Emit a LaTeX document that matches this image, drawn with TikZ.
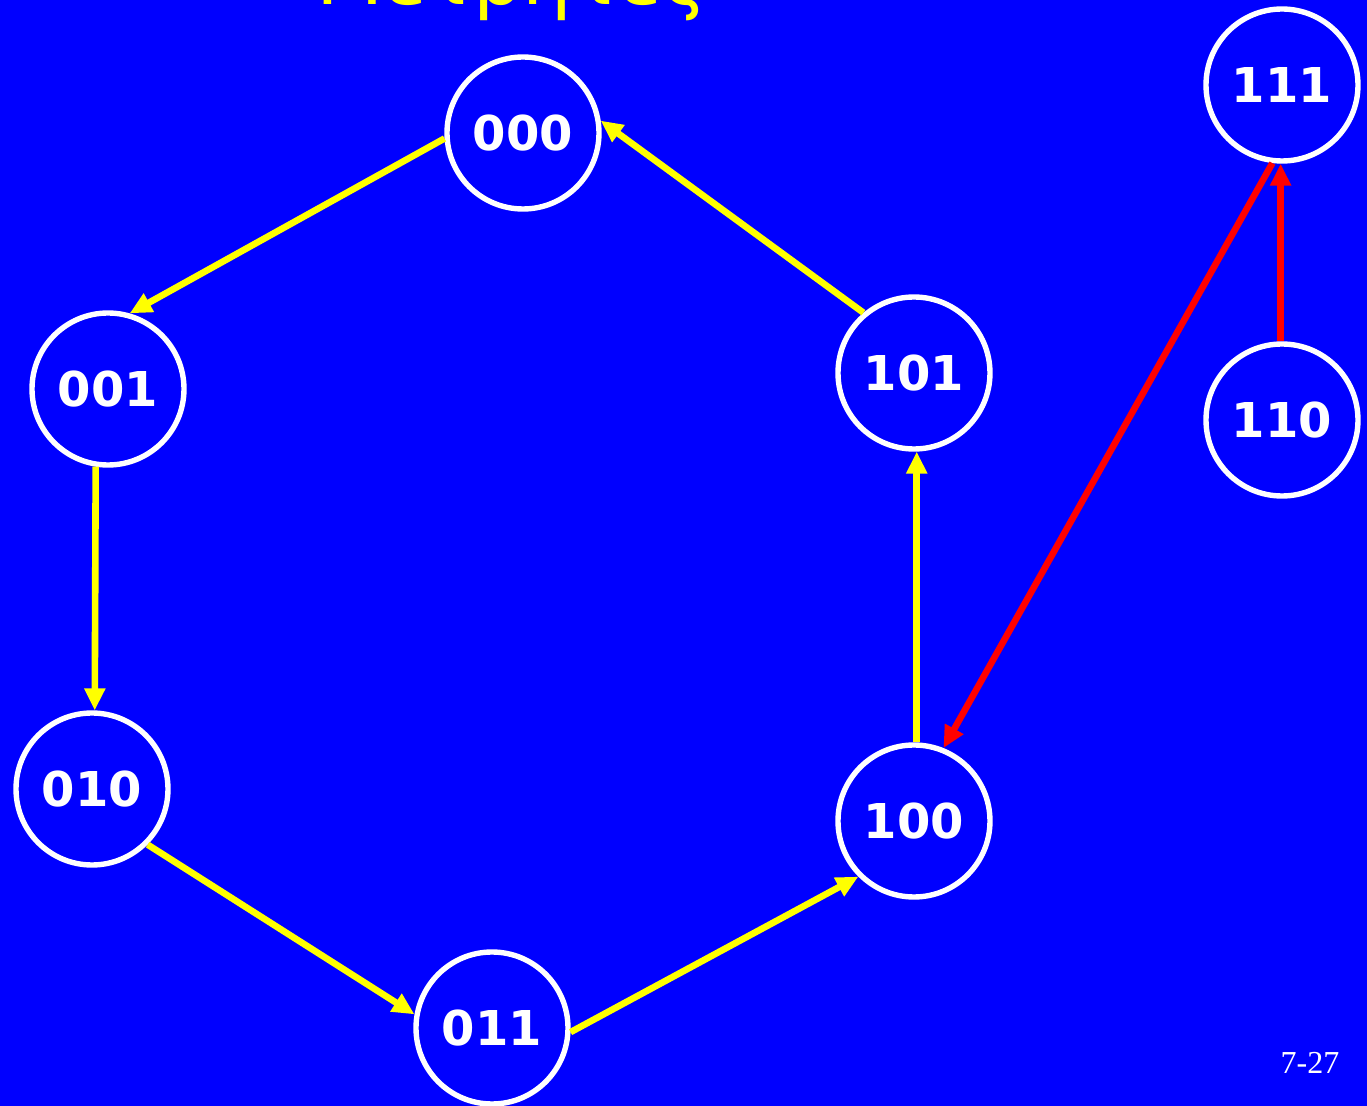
\documentclass[tikz,border=0pt]{standalone}
\usepackage{fontspec}
\setmainfont{Liberation Serif}
\setsansfont{DejaVu Sans}
\newfontfamily\titlefont{DejaVu Sans}
\usepackage{tikz}
\usetikzlibrary{arrows.meta, positioning}

\definecolor{slideblue}{HTML}{0000FF}
\definecolor{slideyellow}{HTML}{FFFF00}
\definecolor{slidered}{HTML}{FF0000}

\begin{document}
\begin{tikzpicture}[
    x=0.5pt, y=-0.5pt,
    state/.style={circle, draw=white, line width=2.7pt, fill=slideblue, minimum size=76pt,
        inner sep=0pt, text=white, font=\sffamily\bfseries\fontsize{24}{24}\selectfont},
    go/.style={draw=slideyellow, line width=3.3pt, -{Triangle[length=11pt,width=10pt]}},
    bad/.style={draw=slidered, line width=3.3pt, -{Triangle[length=11pt,width=10pt]}}
]
    \clip (0,0) rectangle (1367,1106);
    \fill[slideblue] (0,0) rectangle (1367,1106);

    % title
    \node[text=slideyellow, font=\titlefont\fontsize{39}{39}\selectfont, anchor=base]
        (title) at (512,5) {Μετρητές};

    % states
    \node[state] (s000) at (523,133) {000};
    \node[state] (s001) at (108,389) {001};
    \node[state] (s010) at (92,789) {010};
    \node[state] (s011) at (492,1028) {011};
    \node[state] (s100) at (914,821) {100};
    \node[state] (s101) at (914,373) {101};
    \node[state] (s111) at (1282,85) {111};
    \node[state] (s110) at (1282,420) {110};

    % counting cycle
    \draw[go] (s000.184) -- (s001.74);
    \draw[go] (s001.-99) -- (s010.88);
    \draw[go] (s010.-45) -- (s011.170);
    \draw[go] (s011.-3) -- (s100.225);
    \draw[go] (s100.88) -- (s101.-88);
    \draw[go] (s101.130) -- (s000.9);

    % unused states
    \draw[bad] (s110.91) -- (s111.-91);
    \draw[bad] (s111.-97) -- (s100.68);

    \node[text=white, font=\rmfamily\fontsize{16}{16}\selectfont, anchor=base]
        (page) at (1310,1073) {7-27};
\end{tikzpicture}
\end{document}
